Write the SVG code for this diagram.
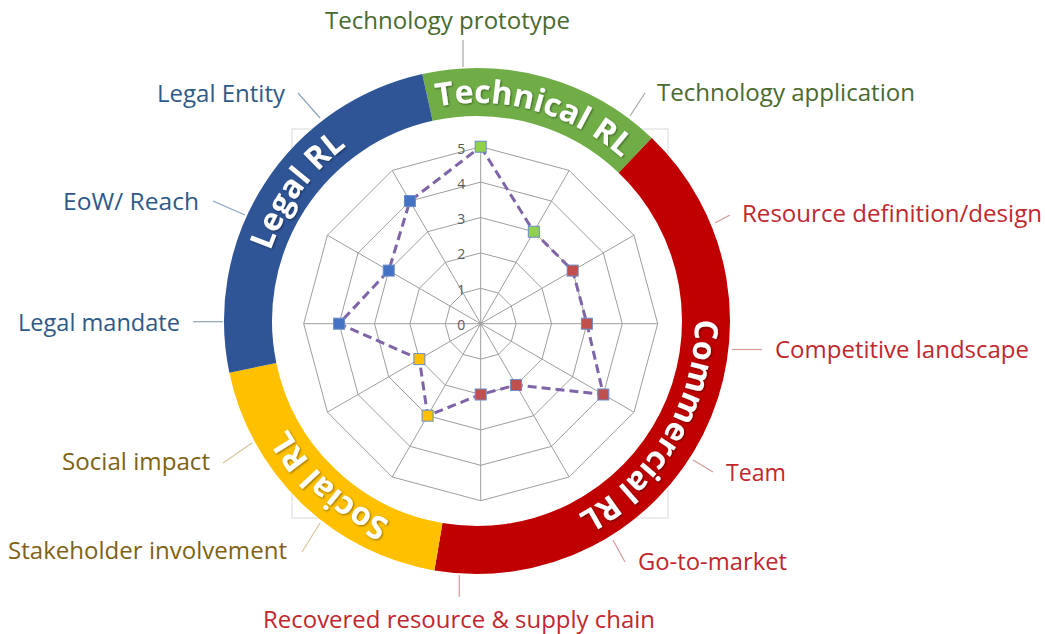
<svg xmlns="http://www.w3.org/2000/svg" width="1045" height="634" viewBox="0 0 1045 634">
<style>
.lbl{font-family:"Open Sans","Liberation Sans",sans-serif;font-size:23px}
.g{fill:#4A6A30}.b{fill:#2E5A88}.r{fill:#C0282E}.y{fill:#7F6214}
.lg{stroke:#A6A6A6}.lb{stroke:#8EA3BF}.lr{stroke:#D79A9A}.ly{stroke:#D4C69C}
.ldr line{stroke-width:1.2}
.grid{fill:none;stroke:#9E9E9E;stroke-width:1}
.ax{font-family:"Open Sans","Liberation Sans",sans-serif;font-size:14px;fill:#595959;text-anchor:end}
.band{fill:none;stroke-width:48}
.rl{font-family:"Open Sans","Liberation Sans",sans-serif;font-weight:700;font-size:32px;fill:#FFFFFF}
.mk{stroke:#6A8CC7;stroke-width:1}
</style>
<defs>
<path id="arcR" d="M259,321 A218,218 0 1 1 695,321 A218,218 0 1 1 259,321"/>
<filter id="sh" x="-10%" y="-10%" width="120%" height="120%">
<feDropShadow dx="1" dy="1" stdDeviation="1" flood-color="#000" flood-opacity="0.45"/>
</filter>
</defs>
<rect width="1045" height="634" fill="#FFFFFF"/>
<rect x="292" y="129" width="376" height="389" fill="none" stroke="#D9D9D9" stroke-width="1"/>
<circle cx="477" cy="321" r="253" fill="#FFFFFF"/>

<g id="ring">
<path class="band" stroke="#70AD47" d="M427.44,97.43 A229,229 0 0 1 635.21,155.44"/>
<path class="band" stroke="#C00000" d="M635.21,155.44 A229,229 0 0 1 438.42,546.73"/>
<path class="band" stroke="#FFC000" d="M438.42,546.73 A229,229 0 0 1 252.84,367.83"/>
<path class="band" stroke="#2F5597" d="M252.84,367.83 A229,229 0 0 1 427.44,97.43"/>
<g filter="url(#sh)">
<text id="technical-rl" class="rl"><textPath href="#arcR" startOffset="401.4" text-anchor="middle">Technical RL</textPath></text>
<text id="commercial-rl" class="rl"><textPath href="#arcR" startOffset="802.8" text-anchor="middle">Commercial RL</textPath></text>
<text id="social-rl" class="rl"><textPath href="#arcR" startOffset="1187.1" text-anchor="middle">Social RL</textPath></text>
<text id="legal-rl" class="rl"><textPath href="#arcR" startOffset="137" text-anchor="middle">Legal RL</textPath></text>
</g>
</g>

<g id="radar" transform="translate(480.7,323.7)">
<g class="grid">
<polygon points="0,-35.4 17.7,-30.66 30.66,-17.7 35.4,0 30.66,17.7 17.7,30.66 0,35.4 -17.7,30.66 -30.66,17.7 -35.4,0 -30.66,-17.7 -17.7,-30.66"/>
<polygon points="0,-70.8 35.4,-61.31 61.31,-35.4 70.8,0 61.31,35.4 35.4,61.31 0,70.8 -35.4,61.31 -61.31,35.4 -70.8,0 -61.31,-35.4 -35.4,-61.31"/>
<polygon points="0,-106.2 53.1,-91.97 91.97,-53.1 106.2,0 91.97,53.1 53.1,91.97 0,106.2 -53.1,91.97 -91.97,53.1 -106.2,0 -91.97,-53.1 -53.1,-91.97"/>
<polygon points="0,-141.6 70.8,-122.63 122.63,-70.8 141.6,0 122.63,70.8 70.8,122.63 0,141.6 -70.8,122.63 -122.63,70.8 -141.6,0 -122.63,-70.8 -70.8,-122.63"/>
<polygon points="0,-177 88.5,-153.29 153.29,-88.5 177,0 153.29,88.5 88.5,153.29 0,177 -88.5,153.29 -153.29,88.5 -177,0 -153.29,-88.5 -88.5,-153.29"/>
<path d="M0,-177 L0,177 M88.5,-153.29 L-88.5,153.29 M153.29,-88.5 L-153.29,88.5 M177,0 L-177,0 M153.29,88.5 L-153.29,-88.5 M88.5,153.29 L-88.5,-153.29"/>
</g>
<g>
<text class="ax" x="-15.5" y="6.5">0</text>
<text class="ax" x="-15.5" y="-28.9">1</text>
<text class="ax" x="-15.5" y="-64.3">2</text>
<text class="ax" x="-15.5" y="-99.7">3</text>
<text class="ax" x="-15.5" y="-135.1">4</text>
<text class="ax" x="-15.5" y="-170">5</text>
</g>
<polygon id="series" points="0,-177 53.1,-91.97 91.97,-53.1 106.2,0 122.63,70.8 35.4,61.31 0,70.8 -53.1,91.97 -61.31,35.4 -141.6,0 -91.97,-53.1 -70.8,-122.63" fill="none" stroke="#7E65A8" stroke-width="3" stroke-dasharray="9 5"/>
<g id="markers">
<rect class="mk" x="-5.5" y="-182.5" width="11" height="11" fill="#92D050"/>
<rect class="mk" x="47.6" y="-97.47" width="11" height="11" fill="#92D050"/>
<rect class="mk" x="86.47" y="-58.6" width="11" height="11" fill="#C0504D"/>
<rect class="mk" x="100.7" y="-5.5" width="11" height="11" fill="#C0504D"/>
<rect class="mk" x="117.13" y="65.3" width="11" height="11" fill="#C0504D"/>
<rect class="mk" x="29.9" y="55.81" width="11" height="11" fill="#C0504D"/>
<rect class="mk" x="-5.5" y="65.3" width="11" height="11" fill="#C0504D"/>
<rect class="mk" x="-58.6" y="86.47" width="11" height="11" fill="#FFC000"/>
<rect class="mk" x="-66.81" y="29.9" width="11" height="11" fill="#FFC000"/>
<rect class="mk" x="-147.1" y="-5.5" width="11" height="11" fill="#4472C4"/>
<rect class="mk" x="-97.47" y="-58.6" width="11" height="11" fill="#4472C4"/>
<rect class="mk" x="-76.3" y="-128.13" width="11" height="11" fill="#4472C4"/>
</g>
</g>

<g id="connectors" class="ldr">
<line class="lg" x1="463" y1="40" x2="463" y2="67"/>
<line class="lg" x1="645" y1="93" x2="630" y2="116"/>
<line class="lr" x1="730" y1="215" x2="715" y2="223"/>
<line class="lr" x1="732" y1="349.5" x2="762" y2="349.5"/>
<line class="lr" x1="693" y1="460" x2="713" y2="472"/>
<line class="lr" x1="613" y1="540" x2="625" y2="562"/>
<line class="lr" x1="459.3" y1="575" x2="459.3" y2="597"/>
<line class="ly" x1="320" y1="523" x2="302" y2="552"/>
<line class="ly" x1="252" y1="443" x2="223" y2="463"/>
<line class="lb" x1="193" y1="321.7" x2="223" y2="321.7"/>
<line class="lb" x1="213" y1="201" x2="245" y2="215"/>
<line class="lb" x1="298" y1="93" x2="320" y2="118"/>
</g>

<g id="node-technology-prototype"><text class="lbl g" x="325" y="29" textLength="245" lengthAdjust="spacingAndGlyphs">Technology prototype</text></g>
<g id="node-technology-application"><text class="lbl g" x="657" y="101" textLength="258" lengthAdjust="spacingAndGlyphs">Technology application</text></g>
<g id="node-resource-definition"><text class="lbl r" x="742" y="222" textLength="300" lengthAdjust="spacingAndGlyphs">Resource definition/design</text></g>
<g id="node-competitive-landscape"><text class="lbl r" x="775" y="358" textLength="254" lengthAdjust="spacingAndGlyphs">Competitive landscape</text></g>
<g id="node-team"><text class="lbl r" x="726" y="481" textLength="60" lengthAdjust="spacingAndGlyphs">Team</text></g>
<g id="node-go-to-market"><text class="lbl r" x="638" y="570" textLength="149" lengthAdjust="spacingAndGlyphs">Go-to-market</text></g>
<g id="node-recovered-resource"><text class="lbl r" x="263" y="628" textLength="392" lengthAdjust="spacingAndGlyphs">Recovered resource &amp; supply chain</text></g>
<g id="node-stakeholder-involvement"><text class="lbl y" x="8" y="559" textLength="279" lengthAdjust="spacingAndGlyphs">Stakeholder involvement</text></g>
<g id="node-social-impact"><text class="lbl y" x="62" y="470" textLength="148" lengthAdjust="spacingAndGlyphs">Social impact</text></g>
<g id="node-legal-mandate"><text class="lbl b" x="18" y="331" textLength="162" lengthAdjust="spacingAndGlyphs">Legal mandate</text></g>
<g id="node-eow-reach"><text class="lbl b" x="63" y="210" textLength="136" lengthAdjust="spacingAndGlyphs">EoW/ Reach</text></g>
<g id="node-legal-entity"><text class="lbl b" x="157" y="101.7" textLength="128" lengthAdjust="spacingAndGlyphs">Legal Entity</text></g>
</svg>
